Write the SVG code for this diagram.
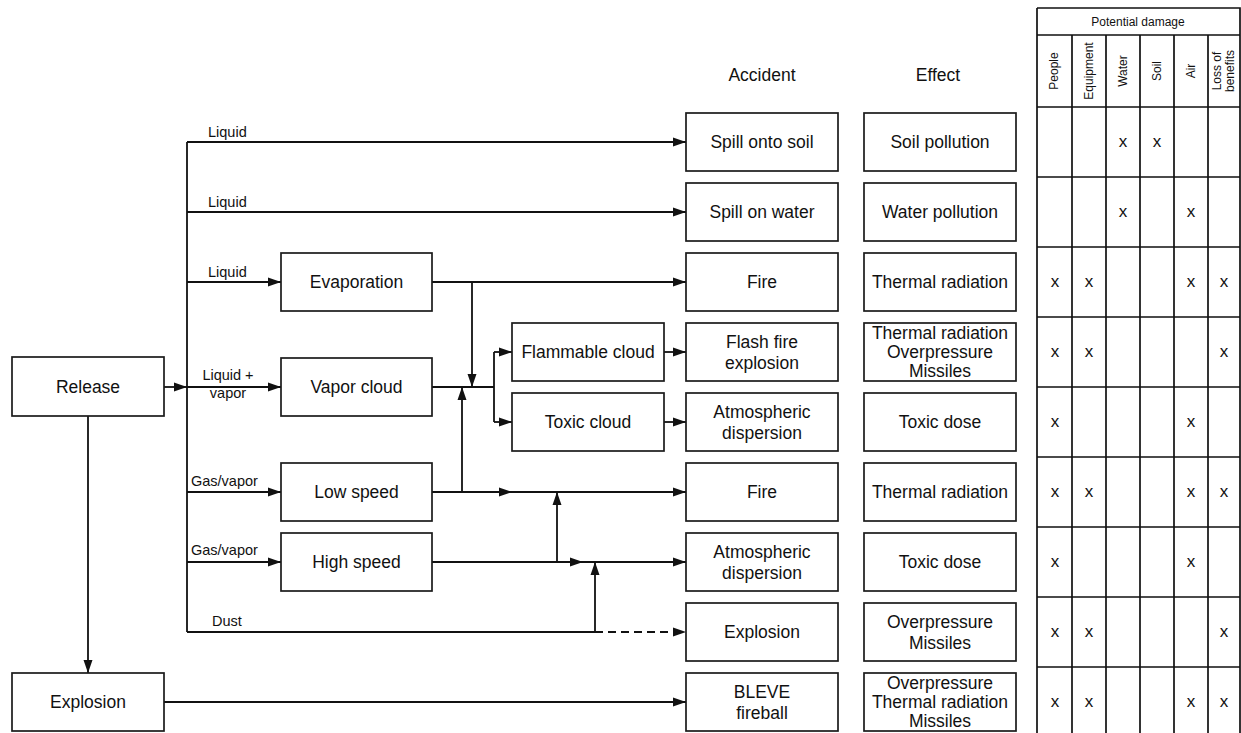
<svg xmlns="http://www.w3.org/2000/svg" width="1241" height="733" viewBox="0 0 1241 733">
<defs>
<style>
.box{fill:#fff;stroke:#1a1a1a;stroke-width:1.7}
.t{font-family:"Liberation Sans",Arial,sans-serif;font-size:17.5px;fill:#111;text-anchor:middle}
.lb{font-family:"Liberation Sans",Arial,sans-serif;font-size:14.5px;fill:#111}
.hd{font-family:"Liberation Sans",Arial,sans-serif;font-size:12px;fill:#111;text-anchor:middle}
.x{font-family:"Liberation Sans",Arial,sans-serif;font-size:17px;fill:#111;text-anchor:middle}
.c{fill:none;stroke:#111;stroke-width:1.8}
.g{fill:none;stroke:#111;stroke-width:1.7}
</style>
<marker id="ah" markerUnits="userSpaceOnUse" markerWidth="13" markerHeight="10" refX="13" refY="5" orient="auto">
<path d="M0,0.5 L13,5 L0,9.5 z" fill="#111"/>
</marker>
</defs>
<rect x="0" y="0" width="1241" height="733" fill="#fff"/>

<g id="connectors">
<path class="c" d="M187,142 V632"/>
<path class="c" d="M187,142 H686" marker-end="url(#ah)"/>
<path class="c" d="M187,212 H686" marker-end="url(#ah)"/>
<path class="c" d="M187,282 H281" marker-end="url(#ah)"/>
<path class="c" d="M187,387 H281" marker-end="url(#ah)"/>
<path class="c" d="M187,492 H281" marker-end="url(#ah)"/>
<path class="c" d="M187,562 H281" marker-end="url(#ah)"/>
<path class="c" d="M164,387 H187" marker-end="url(#ah)"/>
<path class="c" d="M88,416 V673" marker-end="url(#ah)"/>
<path class="c" d="M164,702 H686" marker-end="url(#ah)"/>
<path class="c" d="M432,282 H686" marker-end="url(#ah)"/>
<path class="c" d="M472,282 V387" marker-end="url(#ah)"/>
<path class="c" d="M432,387 H494"/>
<path class="c" d="M494,352 V422"/>
<path class="c" d="M494,352 H512" marker-end="url(#ah)"/>
<path class="c" d="M494,422 H512" marker-end="url(#ah)"/>
<path class="c" d="M664,352 H686" marker-end="url(#ah)"/>
<path class="c" d="M664,422 H686" marker-end="url(#ah)"/>
<path class="c" d="M432,492 H512" marker-end="url(#ah)"/>
<path class="c" d="M512,492 H686" marker-end="url(#ah)"/>
<path class="c" d="M462,492 V387" marker-end="url(#ah)"/>
<path class="c" d="M432,562 H583" marker-end="url(#ah)"/>
<path class="c" d="M583,562 H686" marker-end="url(#ah)"/>
<path class="c" d="M557,562 V492" marker-end="url(#ah)"/>
<path class="c" d="M187,632 H595"/>
<path class="c" d="M595,632 V562" marker-end="url(#ah)"/>
<path class="c" d="M595,632 H686" stroke-dasharray="8,5" marker-end="url(#ah)"/>
<text class="lb" x="208" y="137">Liquid</text>
<text class="lb" x="208" y="207">Liquid</text>
<text class="lb" x="208" y="277">Liquid</text>
<text class="lb" x="228" y="380" text-anchor="middle">Liquid +</text>
<text class="lb" x="228" y="398" text-anchor="middle">vapor</text>
<text class="lb" x="191" y="486">Gas/vapor</text>
<text class="lb" x="191" y="555">Gas/vapor</text>
<text class="lb" x="212" y="626">Dust</text>
</g>

<g id="release"><rect class="box" x="12" y="357" width="152" height="59"/><text class="t" x="88" y="393">Release</text></g>
<g id="explosion-src"><rect class="box" x="12" y="673" width="152" height="58"/><text class="t" x="88" y="708">Explosion</text></g>
<g id="evaporation"><rect class="box" x="281" y="253" width="151" height="58"/><text class="t" x="356.5" y="288">Evaporation</text></g>
<g id="vapor-cloud"><rect class="box" x="281" y="358" width="151" height="58"/><text class="t" x="356.5" y="393">Vapor cloud</text></g>
<g id="low-speed"><rect class="box" x="281" y="463" width="151" height="58"/><text class="t" x="356.5" y="498">Low speed</text></g>
<g id="high-speed"><rect class="box" x="281" y="533" width="151" height="58"/><text class="t" x="356.5" y="568">High speed</text></g>
<g id="flammable-cloud"><rect class="box" x="512" y="323" width="152" height="58"/><text class="t" x="588" y="358">Flammable cloud</text></g>
<g id="toxic-cloud"><rect class="box" x="512" y="393" width="152" height="58"/><text class="t" x="588" y="428">Toxic cloud</text></g>

<g id="headers">
<text class="t" x="762" y="81">Accident</text>
<text class="t" x="938" y="81">Effect</text>
</g>

<g id="accidents">
<g id="acc1"><rect class="box" x="686" y="113" width="152" height="58"/><text class="t" x="762" y="148">Spill onto soil</text></g>
<g id="acc2"><rect class="box" x="686" y="183" width="152" height="58"/><text class="t" x="762" y="218">Spill on water</text></g>
<g id="acc3"><rect class="box" x="686" y="253" width="152" height="58"/><text class="t" x="762" y="288">Fire</text></g>
<g id="acc4"><rect class="box" x="686" y="323" width="152" height="58"/><text class="t" x="762" y="348">Flash fire</text><text class="t" x="762" y="369">explosion</text></g>
<g id="acc5"><rect class="box" x="686" y="393" width="152" height="58"/><text class="t" x="762" y="418">Atmospheric</text><text class="t" x="762" y="439">dispersion</text></g>
<g id="acc6"><rect class="box" x="686" y="463" width="152" height="58"/><text class="t" x="762" y="498">Fire</text></g>
<g id="acc7"><rect class="box" x="686" y="533" width="152" height="58"/><text class="t" x="762" y="558">Atmospheric</text><text class="t" x="762" y="579">dispersion</text></g>
<g id="acc8"><rect class="box" x="686" y="603" width="152" height="58"/><text class="t" x="762" y="638">Explosion</text></g>
<g id="acc9"><rect class="box" x="686" y="673" width="152" height="58"/><text class="t" x="762" y="698">BLEVE</text><text class="t" x="762" y="719">fireball</text></g>
</g>

<g id="effects">
<g id="eff1"><rect class="box" x="864" y="113" width="152" height="58"/><text class="t" x="940" y="148">Soil pollution</text></g>
<g id="eff2"><rect class="box" x="864" y="183" width="152" height="58"/><text class="t" x="940" y="218">Water pollution</text></g>
<g id="eff3"><rect class="box" x="864" y="253" width="152" height="58"/><text class="t" x="940" y="288">Thermal radiation</text></g>
<g id="eff4"><rect class="box" x="864" y="323" width="152" height="58"/><text class="t" x="940" y="339">Thermal radiation</text><text class="t" x="940" y="358">Overpressure</text><text class="t" x="940" y="377">Missiles</text></g>
<g id="eff5"><rect class="box" x="864" y="393" width="152" height="58"/><text class="t" x="940" y="428">Toxic dose</text></g>
<g id="eff6"><rect class="box" x="864" y="463" width="152" height="58"/><text class="t" x="940" y="498">Thermal radiation</text></g>
<g id="eff7"><rect class="box" x="864" y="533" width="152" height="58"/><text class="t" x="940" y="568">Toxic dose</text></g>
<g id="eff8"><rect class="box" x="864" y="603" width="152" height="58"/><text class="t" x="940" y="628">Overpressure</text><text class="t" x="940" y="649">Missiles</text></g>
<g id="eff9"><rect class="box" x="864" y="673" width="152" height="58"/><text class="t" x="940" y="689">Overpressure</text><text class="t" x="940" y="708">Thermal radiation</text><text class="t" x="940" y="727">Missiles</text></g>
</g>

<g id="damage-table">
<path class="g" d="M1037,8 H1240 V740 M1037,8 V740 M1037,35 H1240 M1037,107 H1240 M1037,177 H1240 M1037,247 H1240 M1037,317 H1240 M1037,387 H1240 M1037,457 H1240 M1037,527 H1240 M1037,597 H1240 M1037,667 H1240 M1072,35 V740 M1106,35 V740 M1140,35 V740 M1174,35 V740 M1208,35 V740"/>
<text class="hd" x="1138" y="26">Potential damage</text>
<text class="hd" transform="translate(1058,71) rotate(-90)">People</text>
<text class="hd" transform="translate(1093,71) rotate(-90)">Equipment</text>
<text class="hd" transform="translate(1127,71) rotate(-90)">Water</text>
<text class="hd" transform="translate(1161,71) rotate(-90)">Soil</text>
<text class="hd" transform="translate(1195,71) rotate(-90)">Air</text>
<text class="hd" transform="translate(1221,71) rotate(-90)">Loss of</text>
<text class="hd" transform="translate(1234,71) rotate(-90)">benefits</text>
<g id="marks">
<text class="x" x="1123" y="147">x</text><text class="x" x="1157" y="147">x</text>
<text class="x" x="1123" y="217">x</text><text class="x" x="1191" y="217">x</text>
<text class="x" x="1055" y="287">x</text><text class="x" x="1089" y="287">x</text><text class="x" x="1191" y="287">x</text><text class="x" x="1224" y="287">x</text>
<text class="x" x="1055" y="357">x</text><text class="x" x="1089" y="357">x</text><text class="x" x="1224" y="357">x</text>
<text class="x" x="1055" y="427">x</text><text class="x" x="1191" y="427">x</text>
<text class="x" x="1055" y="497">x</text><text class="x" x="1089" y="497">x</text><text class="x" x="1191" y="497">x</text><text class="x" x="1224" y="497">x</text>
<text class="x" x="1055" y="567">x</text><text class="x" x="1191" y="567">x</text>
<text class="x" x="1055" y="637">x</text><text class="x" x="1089" y="637">x</text><text class="x" x="1224" y="637">x</text>
<text class="x" x="1055" y="707">x</text><text class="x" x="1089" y="707">x</text><text class="x" x="1191" y="707">x</text><text class="x" x="1224" y="707">x</text>
</g>
</g>
</svg>
